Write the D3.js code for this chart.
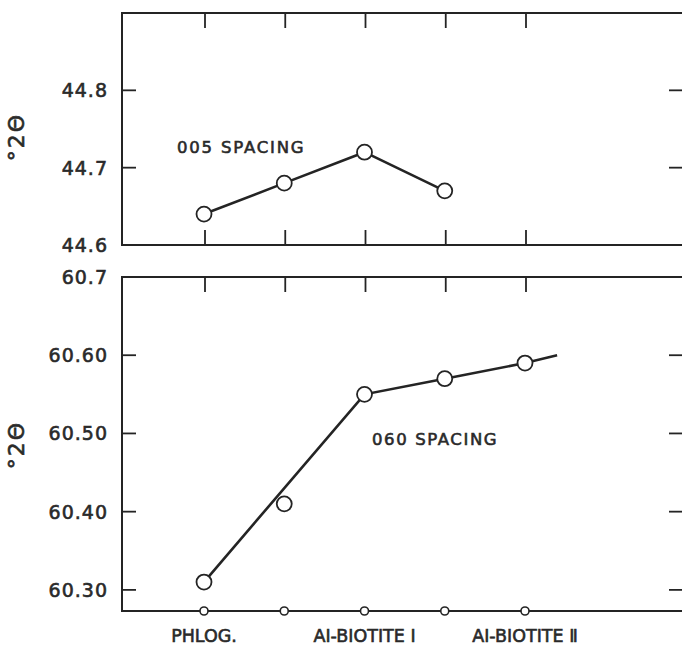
<!DOCTYPE html>
<html>
<head>
<script src="https://cdn.jsdelivr.net/npm/d3@7/dist/d3.min.js"></script>
<style>
  body { margin: 0; background: #fff; }
  text { font-family: "DejaVu Sans", sans-serif; fill: #2a2a2a; stroke: #2a2a2a; stroke-width: 0.6px; }
</style>
</head>
<body>
<script>
var width = 682, height = 646;
var ink = "#242424";

// categories along the bottom (index 0..4)
var categories = ["PHLOG.", "", "AI-BIOTITE \u2160", "", "AI-BIOTITE \u2161"];
var catIndex = [0, 1, 2, 3, 4];

// 005 spacing (top panel)
var topX = [0, 1, 2, 3];
var topY = [44.64, 44.68, 44.72, 44.67];
var topTicks = [44.6, 44.7, 44.8];
var topTickLabels = ["44.6", "44.7", "44.8"];

// 060 spacing (bottom panel)
var botX = [0, 1, 2, 3, 4];
var botY = [60.31, 60.41, 60.55, 60.57, 60.59];
// drawn trend line
var lineX = [0, 2, 3, 4, 4.4];
var lineY = [60.31, 60.55, 60.57, 60.59, 60.60];
var botTicks = [60.30, 60.40, 60.50, 60.60, 60.7];
var botTickLabels = ["60.30", "60.40", "60.50", "60.60", "60.7"];

var svg = d3.select("body").append("svg")
    .attr("width", width)
    .attr("height", height);

var left = 122, right = 685;
var x = d3.scaleLinear().domain([0, 4]).range([204, 525]);

var yTop = d3.scaleLinear().domain([44.6, 44.9]).range([245, 13]);
var yBot = d3.scaleLinear().domain([60.273, 60.7]).range([611, 277]);

function frame(y0, y1) {
    svg.append("rect")
        .attr("x", left).attr("y", y0)
        .attr("width", right - left).attr("height", y1 - y0)
        .attr("fill", "none").attr("stroke", ink).attr("stroke-width", 2);
}

function sideTicks(scale, ticks, labels, skipLeft) {
    ticks.forEach(function(t, i) {
        var yy = scale(t);
        if (!skipLeft[i]) {
            svg.append("line").attr("x1", left).attr("x2", left + 14)
                .attr("y1", yy).attr("y2", yy)
                .attr("stroke", ink).attr("stroke-width", 1.8);
            svg.append("line").attr("x1", 669).attr("x2", right)
                .attr("y1", yy).attr("y2", yy)
                .attr("stroke", ink).attr("stroke-width", 1.8);
        }
        svg.append("text")
            .attr("x", 108).attr("y", yy + 7)
            .attr("text-anchor", "end")
            .attr("font-size", "19px")
            .attr("letter-spacing", "1px")
            .text(labels[i]);
    });
}

function topBottomTicks(y0, dir) {
    catIndex.forEach(function(c) {
        svg.append("line")
            .attr("x1", x(c) + 1).attr("x2", x(c) + 1)
            .attr("y1", y0).attr("y2", y0 + dir * 15)
            .attr("stroke", ink).attr("stroke-width", 1.8);
    });
}

function yLabel(cy) {
    svg.append("text")
        .attr("transform", "translate(24," + cy + ") rotate(-90)")
        .attr("text-anchor", "middle")
        .attr("font-size", "22px")
        .attr("letter-spacing", "2px")
        .text("\u00B02\u0398");
}

// ---- top panel
frame(13, 245);
topBottomTicks(13, 1);
topBottomTicks(245, -1);
sideTicks(yTop, topTicks, topTickLabels, [true, false, false]);
yLabel(137);

svg.append("path")
    .datum(topX.map(function(d, i) { return [d, topY[i]]; }))
    .attr("fill", "none").attr("stroke", ink).attr("stroke-width", 2.6)
    .attr("d", d3.line().x(function(d) { return x(d[0]); }).y(function(d) { return yTop(d[1]); }));

svg.selectAll(".ptop").data(topX).enter().append("circle")
    .attr("cx", function(d) { return x(d); })
    .attr("cy", function(d, i) { return yTop(topY[i]); })
    .attr("r", 7.5)
    .attr("fill", "#fff").attr("stroke", ink).attr("stroke-width", 1.8);

svg.append("text")
    .attr("x", 177).attr("y", 153)
    .attr("font-size", "16.5px")
    .attr("letter-spacing", "1.8px")
    .text("005 SPACING");

// ---- bottom panel
frame(277, 611);
topBottomTicks(277, 1);
sideTicks(yBot, botTicks, botTickLabels, [false, false, false, false, true]);
yLabel(445);

svg.append("path")
    .datum(lineX.map(function(d, i) { return [d, lineY[i]]; }))
    .attr("fill", "none").attr("stroke", ink).attr("stroke-width", 2.6)
    .attr("d", d3.line().x(function(d) { return x(d[0]); }).y(function(d) { return yBot(d[1]); }));

svg.selectAll(".pbot").data(botX).enter().append("circle")
    .attr("cx", function(d) { return x(d); })
    .attr("cy", function(d, i) { return yBot(botY[i]); })
    .attr("r", 7.5)
    .attr("fill", "#fff").attr("stroke", ink).attr("stroke-width", 1.8);

// small circles on the base line
svg.selectAll(".pbase").data(catIndex).enter().append("circle")
    .attr("cx", function(d) { return x(d); })
    .attr("cy", 611)
    .attr("r", 4)
    .attr("fill", "#fff").attr("stroke", ink).attr("stroke-width", 1.6);

svg.append("text")
    .attr("x", 372).attr("y", 445)
    .attr("font-size", "16.5px")
    .attr("letter-spacing", "1.6px")
    .text("060 SPACING");

// category labels
svg.selectAll(".cat").data(catIndex.filter(function(d) { return categories[d]; }))
    .enter().append("text")
    .attr("x", function(d) { return x(d); })
    .attr("y", 642)
    .attr("text-anchor", "middle")
    .attr("font-size", "17.5px")
    .text(function(d) { return categories[d]; });
</script>
</body>
</html>
